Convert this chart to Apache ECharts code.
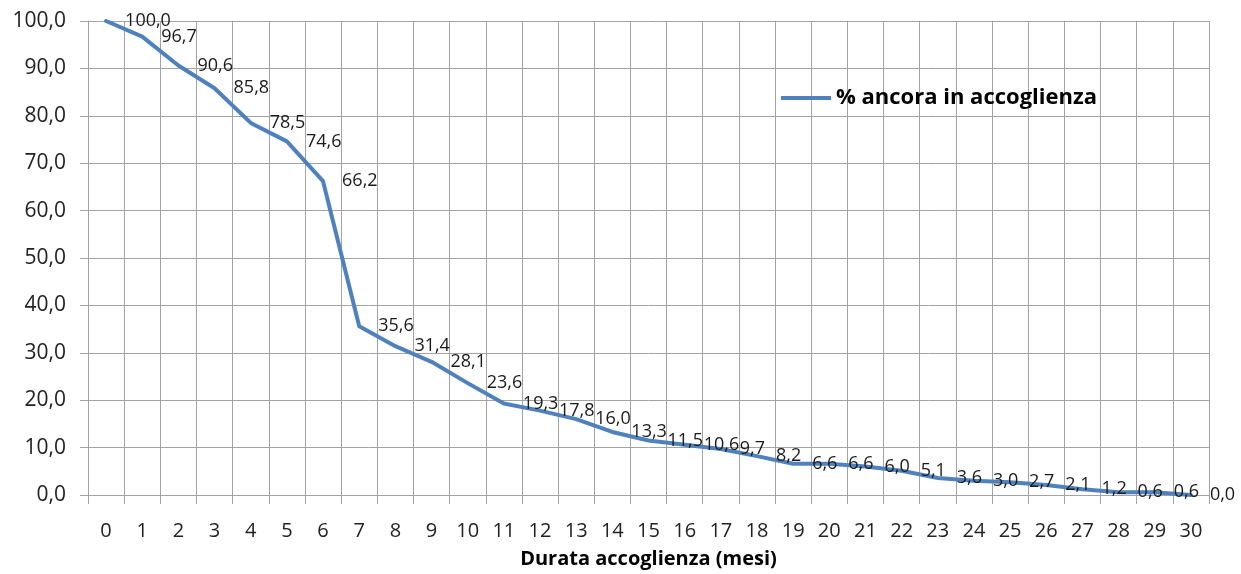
<!DOCTYPE html>
<html>
<head>
<meta charset="utf-8">
<script src="https://cdn.jsdelivr.net/npm/echarts@6/dist/echarts.min.js"></script>
<style>
  html, body { margin: 0; padding: 0; background: #fff; }
  #chart { width: 1241px; height: 574px; }
</style>
</head>
<body>
<div id="chart"></div>
<script>
// Months of stay (x categories)
const mesi = ['0','1','2','3','4','5','6','7','8','9','10','11','12','13','14','15',
              '16','17','18','19','20','21','22','23','24','25','26','27','28','29','30'];

// Share still hosted, per month (%)
const ancoraInAccoglienza = [100.0, 96.7, 90.6, 85.8, 78.5, 74.6, 66.2, 35.6, 31.4, 28.1,
                             23.6, 19.3, 17.8, 16.0, 13.3, 11.5, 10.6, 9.7, 8.2, 6.6,
                             6.6, 6.0, 5.1, 3.6, 3.0, 2.7, 2.1, 1.2, 0.6, 0.6, 0.0];

const seriesName = '% ancora in accoglienza';
const xAxisTitle = 'Durata accoglienza (mesi)';

const fmt = v => Number(v).toFixed(1).replace('.', ',');
const FONT = '"Open Sans", sans-serif';
const GRID = '#a3a3a3';
const BLUE = '#4f81bd';

const chart = echarts.init(document.getElementById('chart'), null, { renderer: 'canvas' });
chart.setOption({
  animation: false,
  backgroundColor: '#ffffff',
  grid: { left: 88, right: 32, top: 21, bottom: 76, containLabel: false },
  legend: {
    data: [{ name: seriesName, icon: 'rect' }],
    left: 776,
    top: 82,
    itemWidth: 50,
    itemHeight: 4,
    itemStyle: { color: BLUE, opacity: 1 },
    textStyle: { fontFamily: FONT, fontSize: 22, fontWeight: 'bold', color: '#000' }
  },
  xAxis: {
    type: 'category',
    data: mesi,
    boundaryGap: true,
    name: xAxisTitle,
    nameLocation: 'middle',
    nameGap: 54,
    nameTextStyle: { fontFamily: FONT, fontSize: 20, fontWeight: 'bold', color: '#000' },
    axisLine: { show: true, lineStyle: { color: GRID, width: 1 } },
    axisTick: { show: true, length: 9, interval: 0, lineStyle: { color: GRID } },
    axisLabel: { interval: 0, margin: 26, fontFamily: FONT, fontSize: 20, color: '#222' },
    splitLine: { show: true, interval: 0, lineStyle: { color: GRID, width: 1 } }
  },
  yAxis: {
    type: 'value',
    min: 0,
    max: 100,
    interval: 10,
    axisLine: { show: true, lineStyle: { color: GRID, width: 1 } },
    axisTick: { show: true, length: 8, lineStyle: { color: GRID } },
    axisLabel: {
      margin: 22, fontFamily: FONT, fontSize: 21, color: '#222',
      padding: [6, 0, 0, 0], formatter: fmt
    },
    splitLine: { show: true, lineStyle: { color: GRID, width: 1 } }
  },
  series: [{
    name: seriesName,
    type: 'line',
    data: ancoraInAccoglienza,
    symbol: 'circle',
    symbolSize: 0.01,
    showSymbol: true,
    smooth: false,
    lineStyle: { color: BLUE, width: 4, join: 'round', cap: 'round' },
    itemStyle: { color: BLUE },
    emphasis: { disabled: true },
    label: {
      show: true,
      position: 'right',
      distance: 19,
      offset: [0, 5],
      fontFamily: FONT,
      fontSize: 18,
      color: '#1a1a1a',
      formatter: p => fmt(p.value)
    },
    labelLayout: { hideOverlap: false }
  }]
});
</script>
</body>
</html>
